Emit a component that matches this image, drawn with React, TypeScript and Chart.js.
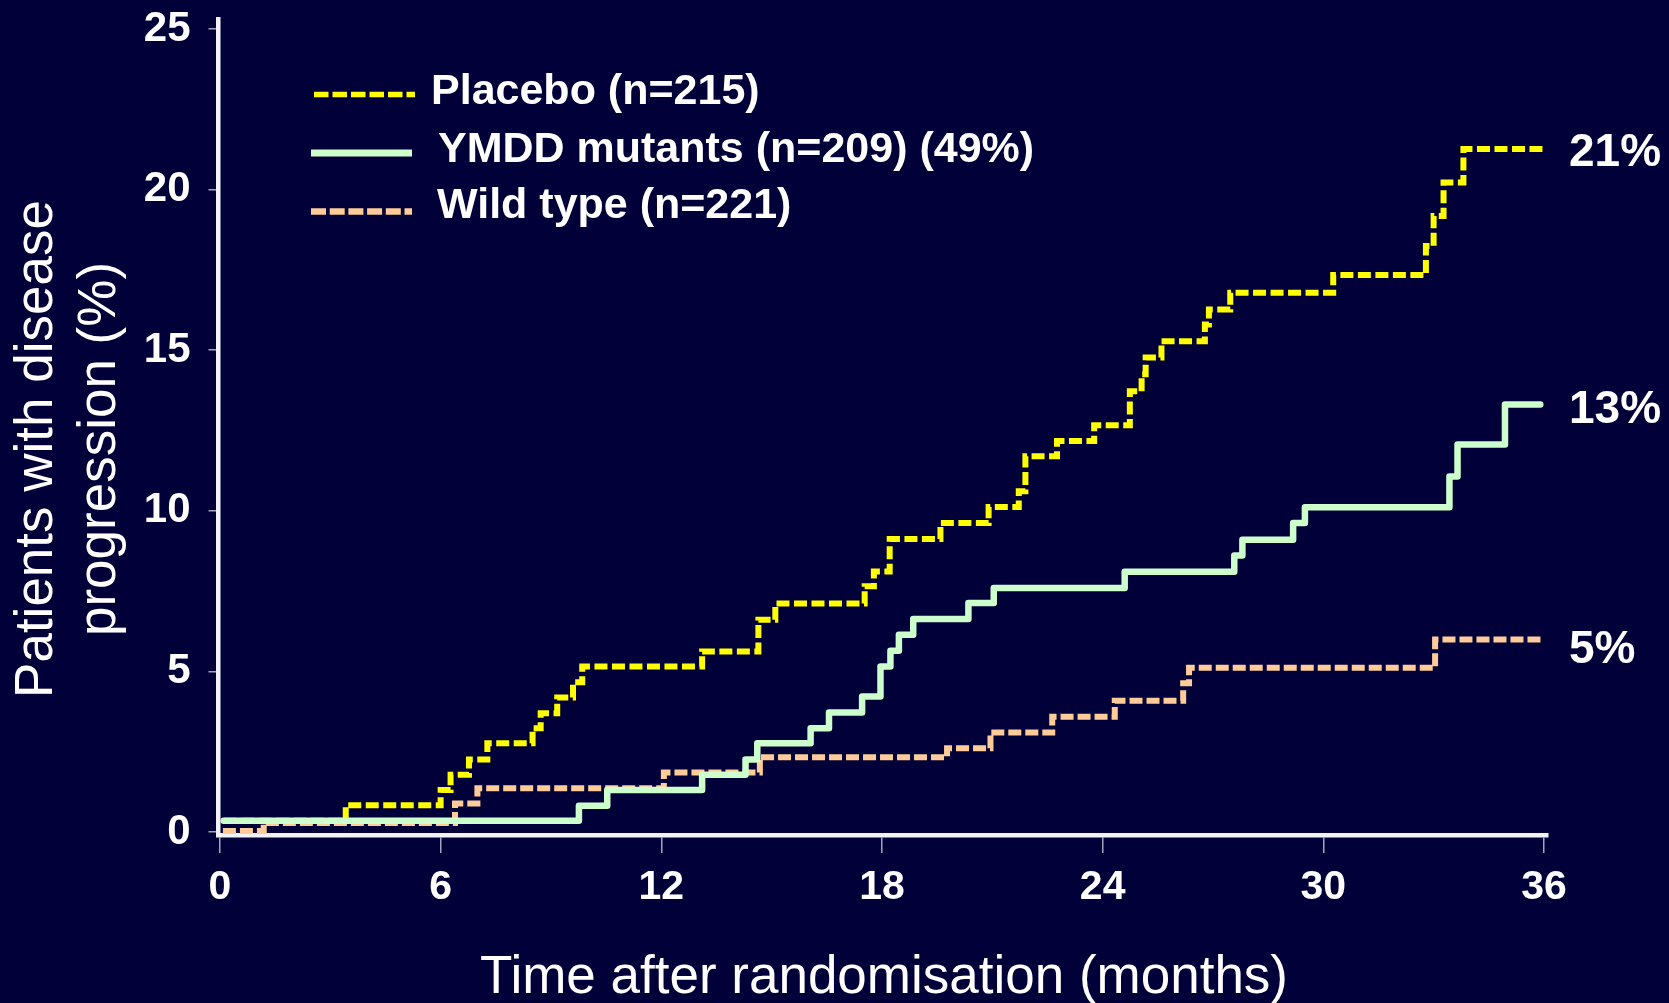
import React, { useEffect, useRef } from "react";
import { Chart, registerables } from "chart.js";

Chart.register(...registerables);

// ---- data (months, % with disease progression) ----
const placeboMonths = [0.1, 3.42, 6.0, 6.27, 6.77, 7.27, 8.5, 8.72, 9.17, 9.6, 9.85, 13.11, 14.64, 15.1, 17.53, 17.78, 18.21, 19.59, 20.9, 21.72, 21.9, 22.76, 23.77, 24.74, 25.06, 25.17, 25.6, 26.78, 26.89, 27.47, 30.27, 32.79, 33.0, 33.27, 33.81, 36.0];
const placeboPct = [0.35, 0.83, 1.31, 1.78, 2.26, 2.76, 3.23, 3.7, 4.19, 4.66, 5.15, 5.62, 6.61, 7.11, 7.65, 8.11, 9.12, 9.62, 10.12, 10.61, 11.7, 12.17, 12.66, 13.72, 14.25, 14.77, 15.28, 15.8, 16.27, 16.79, 17.34, 18.24, 19.18, 20.22, 21.26, 21.26];

const ymddMonths = [0.1, 9.76, 10.53, 13.11, 14.29, 14.61, 16.06, 16.56, 17.46, 17.96, 18.23, 18.46, 18.85, 20.35, 21.04, 24.6, 27.58, 27.8, 29.18, 29.5, 33.43, 33.65, 34.94, 35.9];
const ymddPct = [0.35, 0.82, 1.31, 1.78, 2.26, 2.76, 3.23, 3.72, 4.22, 5.15, 5.64, 6.14, 6.63, 7.13, 7.6, 8.1, 8.61, 9.1, 9.62, 10.11, 11.07, 12.06, 13.31, 13.31];

const wildMonths = [0.08, 1.19, 6.39, 7.0, 12.07, 14.68, 19.77, 20.95, 22.63, 24.33, 26.19, 26.35, 33.04, 35.96];
const wildPct = [0.03, 0.28, 0.89, 1.36, 1.85, 2.33, 2.61, 3.1, 3.59, 4.09, 4.63, 5.11, 5.99, 5.99];

const seriesLabels = ["Placebo (n=215)", "YMDD mutants (n=209) (49%)", "Wild type (n=221)"];
const endLabels = ["21%", "13%", "5%"];
const xTicks = [0, 6, 12, 18, 24, 30, 36];
const yTicks = [0, 5, 10, 15, 20, 25];
const xTitle = "Time after randomisation (months)";
const yTitleLines = ["Patients with disease", "progression (%)"];

const BG = "#020039";
const YELLOW = "#ffff00";
const GREEN = "#ccffcc";
const PEACH = "#ffcc99";
const FONT = '"Liberation Sans", Arial, Helvetica, sans-serif';

const toPoints = (xs: number[], ys: number[]) => xs.map((x, i) => ({ x, y: ys[i] }));

const textPlugin = {
  id: "textPlugin",
  beforeDraw(chart: any) {
    const ctx = chart.ctx;
    ctx.save();
    ctx.fillStyle = BG;
    ctx.fillRect(0, 0, chart.width, chart.height);
    ctx.restore();
  },
  afterDraw(chart: any) {
    const ctx = chart.ctx;
    ctx.save();
    ctx.fillStyle = "#ffffff";
    ctx.textBaseline = "alphabetic";

    // y axis title (two rotated lines)
    ctx.font = `53px ${FONT}`;
    ctx.textAlign = "center";
    const yBaselines = [52, 115];
    yTitleLines.forEach((line, i) => {
      ctx.save();
      ctx.translate(yBaselines[i], 449);
      ctx.rotate(-Math.PI / 2);
      ctx.fillText(line, 0, 0);
      ctx.restore();
    });

    // x axis title
    ctx.fillText(xTitle, 884, 993);

    // legend
    const legend = [
      { color: YELLOW, width: 5.7, dash: [14.5, 4], y: 94.5, x0: 314, x1: 415, tx: 431, ty: 104 },
      { color: GREEN, width: 7, dash: [] as number[], y: 153, x0: 311, x1: 412, tx: 438, ty: 162 },
      { color: PEACH, width: 6.7, dash: [15, 3.7], y: 211.5, x0: 311, x1: 412, tx: 437, ty: 218 },
    ];
    ctx.textAlign = "left";
    ctx.font = `bold 43px ${FONT}`;
    legend.forEach((l, i) => {
      ctx.save();
      ctx.strokeStyle = l.color;
      ctx.lineWidth = l.width;
      ctx.lineCap = "butt";
      ctx.setLineDash(l.dash);
      ctx.beginPath();
      ctx.moveTo(l.x0, l.y);
      ctx.lineTo(l.x1, l.y);
      ctx.stroke();
      ctx.restore();
      ctx.fillText(seriesLabels[i], l.tx, l.ty);
    });

    // end labels
    ctx.font = `bold 46px ${FONT}`;
    const endY = [166, 423, 663];
    endLabels.forEach((t, i) => ctx.fillText(t, 1569, endY[i]));
    ctx.restore();
  },
};

export default function App() {
  const ref = useRef<HTMLCanvasElement>(null);
  useEffect(() => {
    if (!ref.current) return;
    const chart = new Chart(ref.current, {
      type: "line",
      data: {
        datasets: [
          {
            label: seriesLabels[1],
            data: toPoints(ymddMonths, ymddPct),
            borderColor: GREEN,
            borderWidth: 6.5,
            stepped: "before",
            pointRadius: 0,
            borderCapStyle: "round",
            borderJoinStyle: "round",
            fill: false,
            order: 0,
          },
          {
            label: seriesLabels[0],
            data: toPoints(placeboMonths, placeboPct),
            borderColor: YELLOW,
            borderWidth: 6,
            borderDash: [13, 4.5],
            stepped: "before",
            pointRadius: 0,
            borderJoinStyle: "miter",
            fill: false,
            order: 1,
          },
          {
            label: seriesLabels[2],
            data: toPoints(wildMonths, wildPct),
            borderColor: PEACH,
            borderWidth: 6,
            borderDash: [13, 4],
            stepped: "before",
            pointRadius: 0,
            borderJoinStyle: "miter",
            fill: false,
            order: 2,
          },
        ],
      },
      options: {
        animation: false,
        responsive: false,
        devicePixelRatio: 1,
        layout: { padding: { top: 19, right: 121, left: 0, bottom: 0 } },
        plugins: { legend: { display: false }, tooltip: { enabled: false } },
        scales: {
          x: {
            type: "linear",
            min: -0.04,
            max: 36.11,
            afterBuildTicks: (s: any) => {
              s.ticks = xTicks.map((v) => ({ value: v }));
            },
            afterFit: (s: any) => {
              s.height = 168;
              s.paddingLeft = 0;
              s.paddingRight = 0;
              s.paddingTop = 0;
              s.paddingBottom = 0;
            },
            grid: { drawOnChartArea: false, tickLength: 18, color: "#a4a4bc", lineWidth: 1.5 },
            border: { color: "#f2f2f8", width: 4.5 },
            ticks: {
              color: "#ffffff",
              font: { family: FONT, weight: "bold", size: 41 },
              padding: 10,
              maxRotation: 0,
              autoSkip: false,
            },
          },
          y: {
            type: "linear",
            min: -0.093,
            max: 25.31,
            afterBuildTicks: (s: any) => {
              s.ticks = yTicks.map((v) => ({ value: v }));
            },
            afterFit: (s: any) => {
              s.width = 218.5;
              s.paddingLeft = 0;
              s.paddingRight = 0;
              s.paddingTop = 0;
              s.paddingBottom = 0;
            },
            grid: { drawOnChartArea: false, tickLength: 10, color: "#a4a4bc", lineWidth: 1.5 },
            border: { color: "#f2f2f8", width: 4.5 },
            ticks: {
              color: "#ffffff",
              font: { family: FONT, weight: "bold", size: 42 },
              padding: 18,
              autoSkip: false,
            },
          },
        },
      },
      plugins: [textPlugin],
    } as any);
    return () => chart.destroy();
  }, []);

  return (
    <div style={{ position: "fixed", left: 0, top: 0, width: 1669, height: 1003, background: BG }}>
      <canvas ref={ref} width={1669} height={1003} style={{ display: "block", width: 1669, height: 1003 }} />
    </div>
  );
}
